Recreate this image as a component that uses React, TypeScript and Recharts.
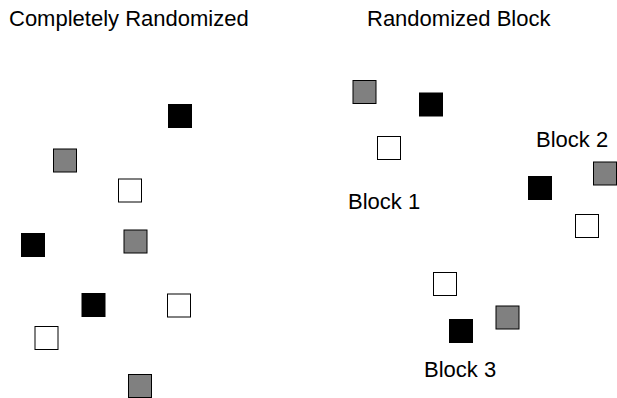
import React from 'react';
import { ScatterChart, Scatter, XAxis, YAxis } from 'recharts';

// positions on a 617 x 398 field, y counted downward
const leftBlack = [
  { x: 180, y: 116 },
  { x: 33, y: 245 },
  { x: 93.5, y: 305 }
];
const leftGray = [
  { x: 65, y: 160.5 },
  { x: 135.5, y: 241.5 },
  { x: 140, y: 386 }
];
const leftWhite = [
  { x: 130, y: 190.5 },
  { x: 179, y: 305.5 },
  { x: 46.5, y: 338 }
];

const rightBlack = [
  { x: 431, y: 104.5 },
  { x: 540, y: 188 },
  { x: 461, y: 331 }
];
const rightGray = [
  { x: 364.5, y: 92 },
  { x: 605, y: 173.5 },
  { x: 507.5, y: 317.5 }
];
const rightWhite = [
  { x: 389, y: 148 },
  { x: 587, y: 226 },
  { x: 445, y: 284 }
];

const titles = [
  { x: 9, y: 26, text: 'Completely Randomized' },
  { x: 367, y: 26, text: 'Randomized Block' }
];
const blockLabels = [
  { x: 348, y: 209, text: 'Block 1' },
  { x: 536, y: 147, text: 'Block 2' },
  { x: 424, y: 377, text: 'Block 3' }
];

const SIZE = 23;

const square = (fill: string) => (props: any) => {
  const { cx, cy } = props;
  return (
    <rect
      x={cx - SIZE / 2}
      y={cy - SIZE / 2}
      width={SIZE}
      height={SIZE}
      fill={fill}
      stroke="#000"
      strokeWidth={1}
    />
  );
};

const TextMark = (props: any) => {
  const { cx, cy, payload } = props;
  return (
    <text
      x={cx}
      y={cy}
      fontSize={22}
      fontFamily="'Liberation Sans', Arial, sans-serif"
      fill="#000"
      textAnchor="start"
    >
      {payload.text}
    </text>
  );
};

export default function App() {
  return (
    <div style={{ position: 'absolute', left: 0, top: 0, background: '#fff' }}>
      <ScatterChart width={617} height={398} margin={{ top: 0, right: 0, bottom: 0, left: 0 }}>
        <XAxis type="number" dataKey="x" domain={[0, 617]} hide />
        <YAxis type="number" dataKey="y" domain={[0, 398]} reversed hide />
        <Scatter data={leftBlack} shape={square('#000000')} isAnimationActive={false} />
        <Scatter data={leftGray} shape={square('#808080')} isAnimationActive={false} />
        <Scatter data={leftWhite} shape={square('#ffffff')} isAnimationActive={false} />
        <Scatter data={rightBlack} shape={square('#000000')} isAnimationActive={false} />
        <Scatter data={rightGray} shape={square('#808080')} isAnimationActive={false} />
        <Scatter data={rightWhite} shape={square('#ffffff')} isAnimationActive={false} />
        <Scatter data={titles} shape={<TextMark />} isAnimationActive={false} />
        <Scatter data={blockLabels} shape={<TextMark />} isAnimationActive={false} />
      </ScatterChart>
    </div>
  );
}
